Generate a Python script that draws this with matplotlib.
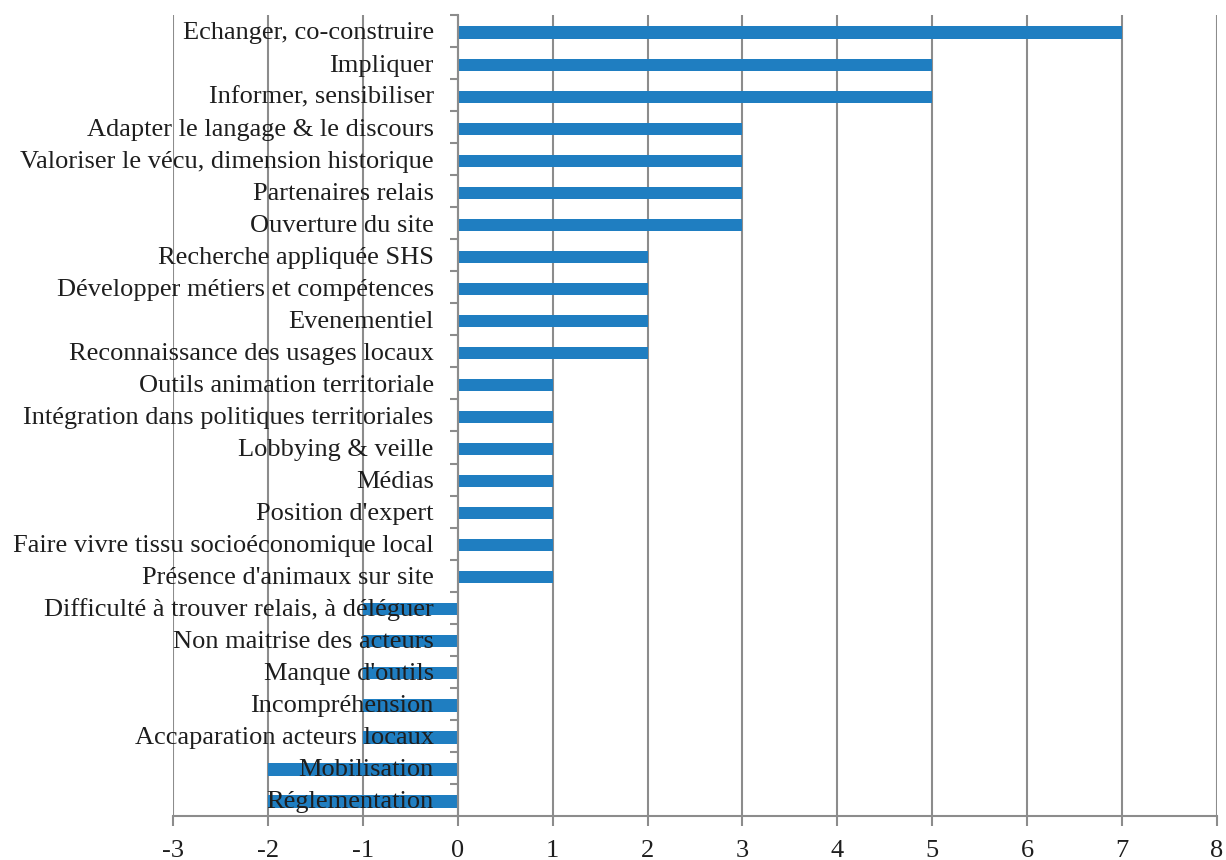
import matplotlib.pyplot as plt
from matplotlib.ticker import FixedLocator, NullFormatter
from matplotlib.transforms import ScaledTranslation
import numpy as np

plt.rcParams['font.family'] = ['Liberation Serif', 'DejaVu Serif']

categories = [
    "Echanger, co-construire",
    "Impliquer",
    "Informer, sensibiliser",
    "Adapter le langage & le discours",
    "Valoriser le vécu, dimension historique",
    "Partenaires relais",
    "Ouverture du site",
    "Recherche appliquée SHS",
    "Développer métiers et compétences",
    "Evenementiel",
    "Reconnaissance des usages locaux",
    "Outils animation territoriale",
    "Intégration dans politiques territoriales",
    "Lobbying & veille",
    "Médias",
    "Position d'expert",
    "Faire vivre tissu socioéconomique local",
    "Présence d'animaux sur site",
    "Difficulté à trouver relais, à déléguer",
    "Non maitrise des acteurs",
    "Manque d'outils",
    "Incompréhension",
    "Accaparation acteurs locaux",
    "Mobilisation",
    "Réglementation",
]
values = [7, 5, 5, 3, 3, 3, 3, 2, 2, 2, 2, 1, 1, 1, 1, 1, 1, 1,
          -1, -1, -1, -1, -1, -2, -2]
x_ticks = list(range(-3, 9))

bar_color = '#1F7EC1'
line_color = '#8C8C8C'
text_color = '#1e1e1e'

fig = plt.figure(figsize=(12.26, 8.6), dpi=100)
ax = fig.add_axes([0.1411, 0.0512, 0.9927 - 0.1411, 0.9826 - 0.0512])

n = len(categories)
ypos = np.arange(n)
ax.barh(ypos + 0.05, values, height=0.38, color=bar_color, zorder=2)

ax.set_xlim(-3, 8)
ax.set_ylim(n - 0.5, -0.5)
ax.set_xticks(x_ticks)
ax.set_xticklabels([str(t) for t in x_ticks], fontsize=19, color=text_color)
ax.tick_params(axis='x', length=7, width=1.5, color=line_color, pad=10)
ax.grid(axis='x', color=line_color, linewidth=1.5, zorder=0)
ax.set_axisbelow(True)

# zero axis with boundary ticks
ax.spines['left'].set_position(('data', 0))
ax.spines['left'].set_color(line_color)
ax.spines['left'].set_linewidth(1.5)
ax.spines['bottom'].set_color(line_color)
ax.spines['bottom'].set_linewidth(1.5)
ax.spines['top'].set_visible(False)
ax.spines['right'].set_visible(False)

ax.yaxis.set_major_locator(FixedLocator(np.arange(n + 1) - 0.5))
ax.yaxis.set_major_formatter(NullFormatter())
ax.tick_params(axis='y', which='major', length=6, width=1.5, color=line_color)

# category labels drawn in front of the bars
offset = ax.transData + ScaledTranslation(-0.24, -0.085, fig.dpi_scale_trans)
for y, label in zip(ypos, categories):
    ax.text(0, y, label, transform=offset, ha='right', va='baseline',
            fontsize=19, color=text_color, zorder=5)

fig.savefig('out.png', dpi=100)
